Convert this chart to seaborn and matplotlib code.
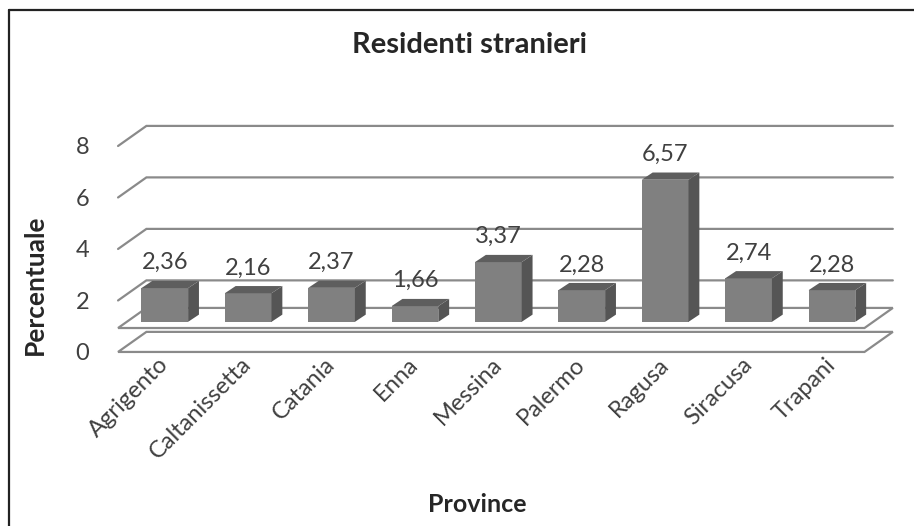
import matplotlib
matplotlib.use("Agg")
import matplotlib.pyplot as plt
import seaborn as sns
from matplotlib.patches import Polygon
from matplotlib.lines import Line2D

# data
provinces = ["Agrigento", "Caltanissetta", "Catania", "Enna", "Messina",
             "Palermo", "Ragusa", "Siracusa", "Trapani"]
values = [2.36, 2.16, 2.37, 1.66, 3.37, 2.28, 6.57, 2.74, 2.28]
y_ticks = [0, 2, 4, 6, 8]

# fake 3D look (excel style)
WALL_DX, WALL_DY = 0.34, 0.78      # depth of the back wall
BAR_DX, BAR_DY = 0.13, 0.28        # depth of each bar
BAR_BASE, LIFT = 1.05, 0.12        # bars stand on the raised floor
FLOOR = 0.93
XL, XR = -0.56, 8.73

front_c, side_c, top_c = "#808080", "#555555", "#5e5e5e"
grid_c = "#8a8a8a"
text_c = "#404040"

sns.set_theme(style="white")
plt.rcParams['font.family'] = ['Lato', 'DejaVu Sans']

fig = plt.figure(figsize=(9.14, 5.26), dpi=100)
ax = fig.add_axes([0.1204, 0.3162, 0.8643, 0.4552])

sns.barplot(x=provinces, y=[v - BAR_BASE for v in values], bottom=BAR_BASE + LIFT,
            color=front_c, saturation=1, width=0.56, edgecolor="none",
            ax=ax, zorder=5)

# back wall gridlines with slanted left piece
for t in y_ticks:
    if t == 0:
        continue
    ax.plot([XL, XL + WALL_DX, XR], [t, t + WALL_DY, t + WALL_DY],
            color=grid_c, lw=1.6, zorder=1, solid_joinstyle="miter")

# the two floors
for lvl in [0, FLOOR]:
    ax.add_patch(Polygon([(XL, lvl), (XR - WALL_DX, lvl), (XR, lvl + WALL_DY),
                          (XL + WALL_DX, lvl + WALL_DY)], closed=True,
                         facecolor="white", edgecolor=grid_c, lw=1.6, zorder=2))

# sides and tops of the bars
for bar, v in zip(ax.patches[:len(values)], values):
    x0, y0 = bar.get_x(), bar.get_y()
    x1, y1 = x0 + bar.get_width(), y0 + bar.get_height()
    ax.add_patch(Polygon([(x1, y0), (x1 + BAR_DX, y0 + BAR_DY),
                          (x1 + BAR_DX, y1 + BAR_DY), (x1, y1)],
                         closed=True, facecolor=side_c, edgecolor="none", zorder=5))
    ax.add_patch(Polygon([(x0, y1), (x1, y1), (x1 + BAR_DX, y1 + BAR_DY),
                          (x0 + BAR_DX, y1 + BAR_DY)],
                         closed=True, facecolor=top_c, edgecolor="none", zorder=5))
    ax.text(x0 + bar.get_width() / 2, v + 0.85, f"{v:.2f}".replace(".", ","),
            ha="center", va="baseline", fontsize=17, color=text_c, zorder=6)

ax.set_xlim(-0.656, 8.816)
ax.set_ylim(-0.3, 9.0)
ax.set_yticks(y_ticks)
ax.set_yticklabels([str(t) for t in y_ticks], fontsize=17, color=text_c)
ax.set_xticks(range(len(provinces)))
ax.set_xticklabels(provinces, rotation=45, ha="right", va="center",
                   rotation_mode="anchor", fontsize=17, color=text_c)
ax.tick_params(axis="y", length=0, pad=15)
ax.tick_params(axis="x", length=0, pad=1)
ax.set_xlabel("")
ax.set_ylabel("")
for s in ax.spines.values():
    s.set_visible(False)

fig.text(470 / 914, 1 - 45 / 526, "Residenti stranieri", ha="center", va="center",
         fontsize=21, fontweight="bold", color="#262626")
fig.text(35 / 914, 1 - 285 / 526, "Percentuale", ha="center", va="center",
         rotation=90, fontsize=19, fontweight="bold", color="#262626")
fig.text(477 / 914, 1 - 505 / 526, "Province", ha="center", va="center",
         fontsize=18, fontweight="bold", color="#262626")

# chart frame (only top and left visible)
fig.add_artist(Line2D([9 / 914, 1], [1 - 10 / 526, 1 - 10 / 526],
                      transform=fig.transFigure, color="#222222", lw=1.6))
fig.add_artist(Line2D([9 / 914, 9 / 914], [0, 1 - 10 / 526],
                      transform=fig.transFigure, color="#222222", lw=1.6))

fig.savefig("out.png", dpi=100)
